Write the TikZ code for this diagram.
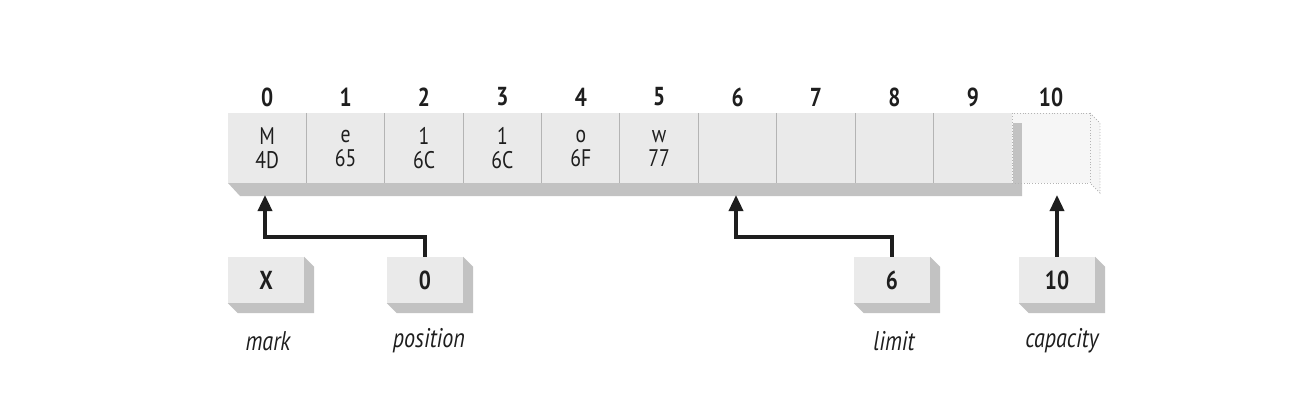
\documentclass[tikz,border=0pt]{standalone}
\usepackage{fontspec}
\setmainfont{PT Sans}[FakeStretch=0.82]
\usetikzlibrary{arrows.meta,calc}
\definecolor{face}{HTML}{EAEAEA}
\definecolor{sidec}{HTML}{C2C2C2}
\definecolor{divc}{HTML}{B4B4B4}
\definecolor{ghost}{HTML}{F6F6F6}
\definecolor{ink}{HTML}{1E1E1E}
\tikzset{
  cellbox/.style={rectangle, fill=face, minimum width=78.4pt, minimum height=70pt, inner sep=0pt, align=center, font=\fontsize{24}{24}\selectfont, text=ink},
  ghostbox/.style={rectangle, fill=ghost, draw=divc, dotted, line width=0.9pt, minimum width=78pt, minimum height=70pt, inner sep=0pt},
  idx/.style={font=\bfseries\fontsize{26}{26}\selectfont, text=ink, inner sep=0pt},
  divider/.style={draw=divc, line width=1pt},
  valbox/.style={rectangle, fill=face, minimum width=76pt, minimum height=46pt, inner sep=0pt, font=\bfseries\fontsize{26}{26}\selectfont, text=ink},
  lbl/.style={font=\itshape\fontsize{27}{27}\selectfont, text=ink, inner sep=0pt},
  ptr/.style={draw=ink, line width=3.4pt, -{Triangle[length=16pt,width=14pt]}},
  sidefill/.style={fill=sidec},
}
\begin{document}
\begin{tikzpicture}[x=1pt,y=-1pt]
\useasboundingbox (0,0) rectangle (1300,402);
% bar extrusion
\fill[sidefill] (228,183) -- (1012,183) -- (1012,113) -- (1022,123) -- (1022,196) -- (240,196) -- cycle;
% cells
\foreach \i/\t in {0/{M\\4D},1/{e\\65},2/{1\\6C},3/{1\\6C},4/{o\\6F},5/{w\\77},6/{},7/{},8/{},9/{}}{
  \node[cellbox] (c\i) at ({228+78.4*\i+39.2},148) {\t};
  \node[idx] (i\i) at ({228+78.4*\i+39.2},97) {\i};
}
\foreach \i [evaluate=\i as \j using int(\i-1)] in {1,...,9}{
  \draw[divider] (c\i.north west) -- (c\i.south west);
}
% ghost cell 10
\fill[ghost] (1090,113) -- (1100,123) -- (1100,193) -- (1090,183) -- cycle;
\draw[divc, dotted, line width=0.9pt] (1090,113) -- (1100,123) -- (1100,193) -- (1090,183);
\node[ghostbox] (c10) at (1051,148) {};
\fill[sidec] (1012.5,123) -- (1022,123) -- (1022,182.5) -- (1012.5,182.5) -- cycle;
\node[idx] (i10) at (1051,97) {10};
% value boxes
\foreach \n/\x/\v in {mark/266/X,pos/425/0,lim/892/6,cap/1057/10}{
  \node[valbox] (\n) at (\x,280) {\v};
  \fill[sidefill] (\n.north east) -- ++(10,10) -- ($(\n.south east)+(10,10)$) -- ($(\n.south west)+(10,10)$) -- (\n.south west) -- (\n.south east) -- cycle;
}
\node[lbl] (lmark) at (268,341) {mark};
\node[lbl] (lpos) at (429,341) {position};
\node[lbl] (llim) at (894,341) {limit};
\node[lbl] (lcap) at (1062,341) {capacity};
% pointers
\coordinate (t0) at (265,195);
\coordinate (t6) at (736,195);
\coordinate (t10) at (1057,195);
\draw[ptr] (pos.north) -- ++(0,-20) -| (t0);
\draw[ptr] (lim.north) -- ++(0,-20) -| (t6);
\draw[ptr] (cap.north -| t10) -- (t10);
\end{tikzpicture}
\end{document}
